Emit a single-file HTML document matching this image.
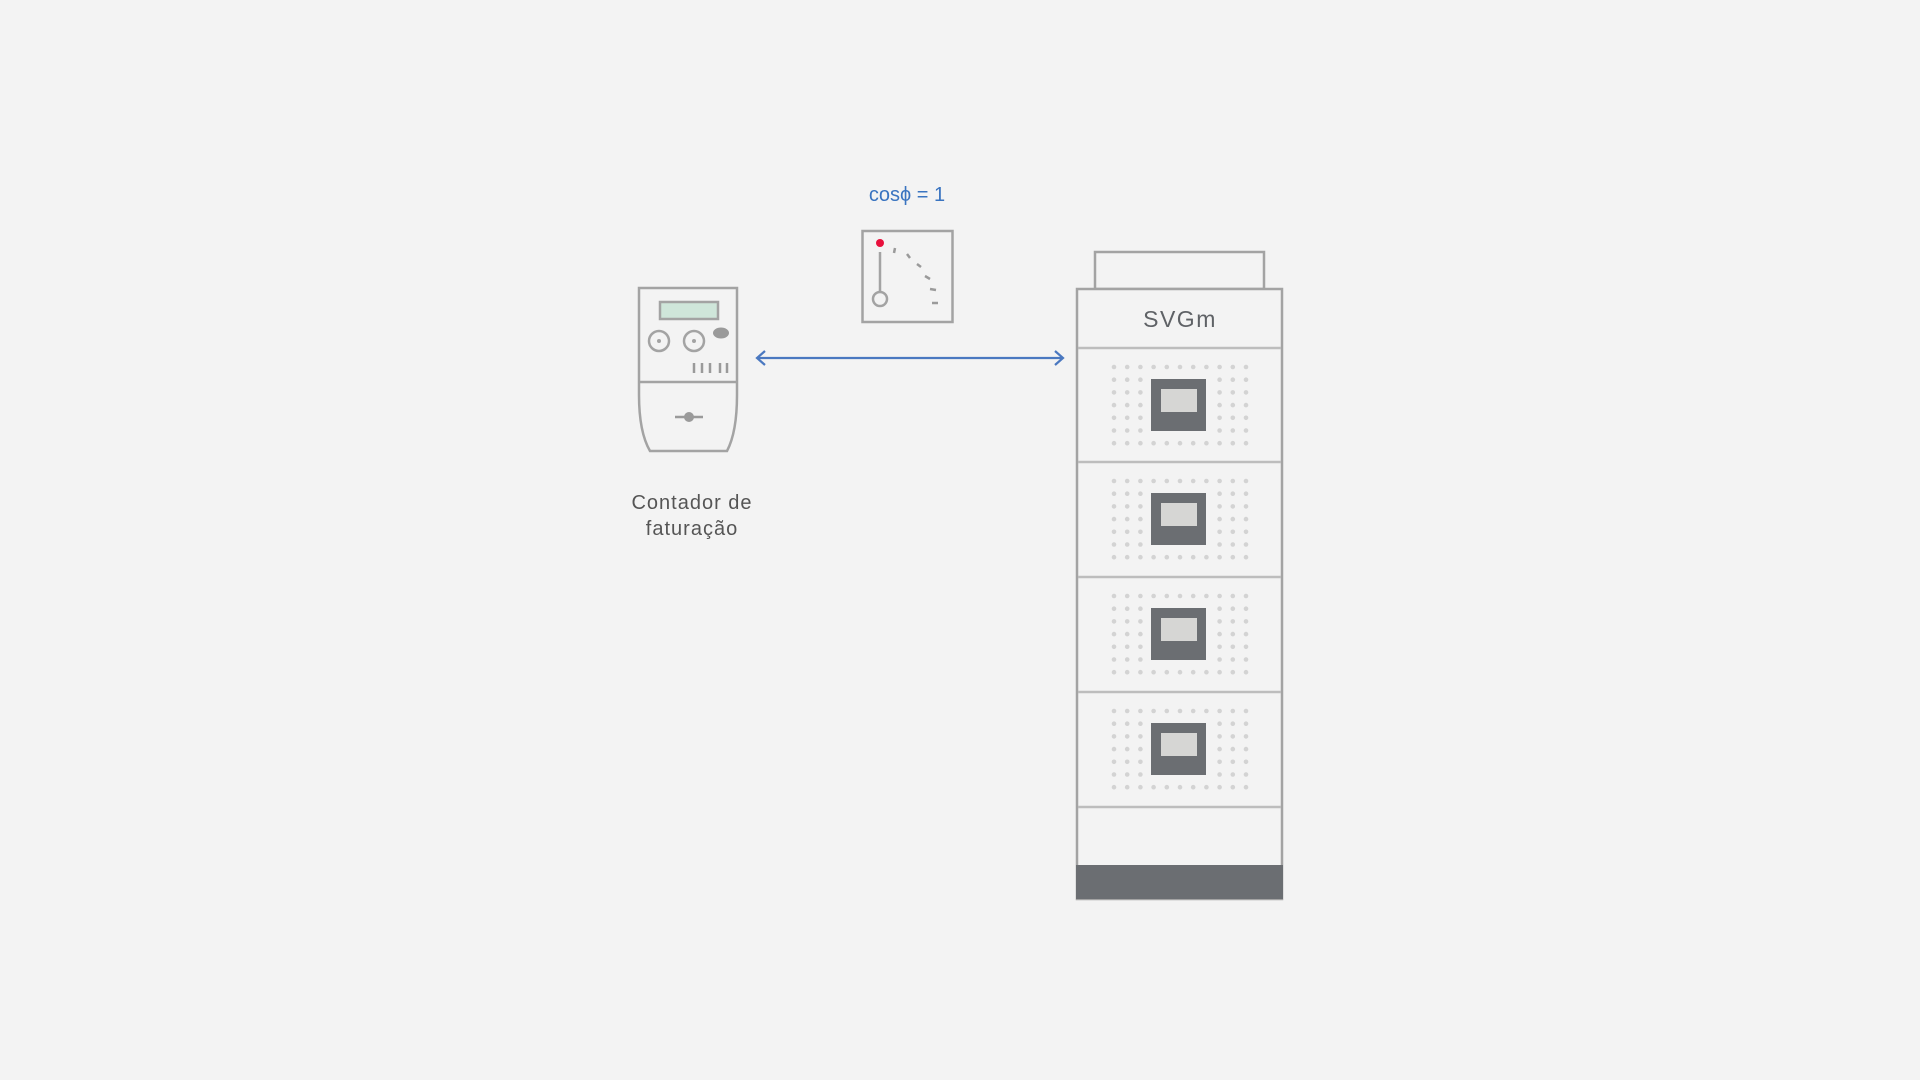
<!DOCTYPE html>
<html><head><meta charset="utf-8"><style>
html,body{margin:0;padding:0;background:#f3f3f3;}
svg{display:block}
text{font-family:"Liberation Sans","DejaVu Sans",sans-serif}
</style></head><body>
<svg id="s" width="1920" height="1080" viewBox="0 0 1920 1080" xmlns="http://www.w3.org/2000/svg">
<rect width="1920" height="1080" fill="#f3f3f3"/>
<g fill="none" stroke="#a3a3a3" stroke-width="2.5">
<path d="M639 288 H737 V395 Q737 432 727 451 H650 Q639 432 639 395 Z"/>
<line x1="639" y1="382" x2="737" y2="382"/>
<rect x="660" y="302" width="58" height="17" fill="#cfe6da"/>
<circle cx="659" cy="341" r="10"/>
<circle cx="694" cy="341" r="10"/>
</g>
<circle cx="659" cy="341" r="2" fill="#a3a3a3"/>
<circle cx="694" cy="341" r="2" fill="#a3a3a3"/>
<ellipse cx="721" cy="333" rx="8" ry="5.5" fill="#9a9a9a"/>
<g stroke="#9a9a9a" stroke-width="2.5">
<line x1="694" y1="363" x2="694" y2="373"/><line x1="702" y1="363" x2="702" y2="373"/><line x1="710" y1="363" x2="710" y2="373"/><line x1="720" y1="363" x2="720" y2="373"/><line x1="727" y1="363" x2="727" y2="373"/>
<line x1="675" y1="417" x2="703" y2="417"/>
</g>
<circle cx="689" cy="417" r="5" fill="#9a9a9a"/>
<text x="692" y="509" font-size="20" fill="#555" text-anchor="middle" letter-spacing="1">Contador de</text>
<text x="692" y="535" font-size="20" fill="#555" text-anchor="middle" letter-spacing="1">faturação</text>
<text x="907" y="201" font-size="20" fill="#3a74c0" text-anchor="middle">cosϕ = 1</text>
<rect x="862.5" y="231" width="90" height="91" fill="none" stroke="#a3a3a3" stroke-width="2.5"/>
<circle cx="880" cy="243" r="4" fill="#e8103c"/>
<line x1="880" y1="252" x2="880" y2="291" stroke="#a3a3a3" stroke-width="2.5"/>
<circle cx="880" cy="299" r="7" fill="none" stroke="#a3a3a3" stroke-width="2.5"/>
<g stroke="#9a9a9a" stroke-width="2.5">
<line x1="895" y1="248" x2="894" y2="253"/><line x1="907" y1="254" x2="910" y2="258"/><line x1="917" y1="264" x2="921" y2="267"/><line x1="925" y1="276" x2="930" y2="279"/><line x1="930" y1="289" x2="936" y2="290"/><line x1="932" y1="303" x2="938" y2="303"/>
</g>
<g stroke="#4a78c0" stroke-width="2.2" fill="none">
<line x1="757" y1="358" x2="1063" y2="358"/>
<polyline points="765,351 757,358 765,365"/>
<polyline points="1055,351 1063,358 1055,365"/>
</g>
<g fill="none" stroke="#a3a3a3" stroke-width="2.5">
<rect x="1095" y="252" width="169" height="37"/>
<rect x="1077" y="289" width="205" height="610" fill="#f3f3f3"/>
</g>
<g stroke="#bdbdbd" stroke-width="2.5">
<line x1="1078" y1="348" x2="1281" y2="348"/>
<line x1="1078" y1="462" x2="1281" y2="462"/>
<line x1="1078" y1="577" x2="1281" y2="577"/>
<line x1="1078" y1="692" x2="1281" y2="692"/>
<line x1="1078" y1="807" x2="1281" y2="807"/>
</g>
<rect x="1076" y="865" width="207" height="34" fill="#6b6e72"/>
<text x="1180" y="327" font-size="23" fill="#5f6266" text-anchor="middle" letter-spacing="1.5">SVGm</text>
<g id="mods"></g>
</svg>
<script>
var g=document.getElementById('mods'),h='';
[348,462,577,692].forEach(function(t){
 for(var r=0;r<7;r++)for(var c=0;c<11;c++){
  if(r>0&&r<6&&c>2&&c<8)continue;
  h+='<circle cx="'+(1114+c*13.2).toFixed(1)+'" cy="'+(t+19+r*12.7).toFixed(1)+'" r="2.3" fill="#d3d3d3"/>';
 }
 h+='<rect x="1151" y="'+(t+31)+'" width="55" height="52" fill="#6b6e72"/>';
 h+='<rect x="1161" y="'+(t+41)+'" width="36" height="23" fill="#d6d6d4"/>';
});
g.innerHTML=h;
</script>
</body></html>
